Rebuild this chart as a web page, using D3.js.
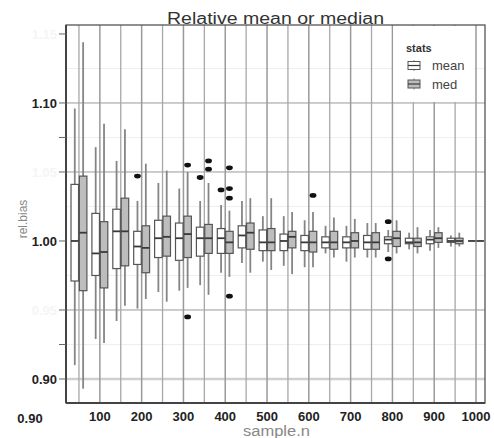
<!DOCTYPE html>
<meta charset="utf-8" />
<head>
  <script src="https://d3js.org/d3.v7.min.js"></script>
  <style>
    body { margin: 0; background: #fff; }
    text { font-family: "Liberation Sans", Arial, sans-serif; }
  </style>
</head>
<body>
  <div id="chart"></div>
</body>
<script>
  // sample sizes (one pair of boxes per size)
  const sampleN = [50, 100, 150, 200, 250, 300, 350, 400, 450, 500,
                   550, 600, 650, 700, 750, 800, 850, 900, 950, 1000];

  // [lower whisker, q1, median, q3, upper whisker]
  const meanStats = [
    [0.910, 0.971, 1.000, 1.041, 1.096], [0.929, 0.975, 0.991, 1.020, 1.068],
    [0.942, 0.980, 1.007, 1.023, 1.058], [0.951, 0.983, 0.996, 1.007, 1.029],
    [0.963, 0.988, 1.002, 1.015, 1.042], [0.964, 0.986, 1.002, 1.013, 1.038],
    [0.968, 0.989, 1.002, 1.010, 1.029], [0.977, 0.991, 1.002, 1.009, 1.026],
    [0.984, 0.995, 1.004, 1.011, 1.029], [0.985, 0.993, 0.999, 1.008, 1.018],
    [0.982, 0.993, 1.000, 1.005, 1.018], [0.981, 0.993, 0.999, 1.004, 1.015],
    [0.991, 0.995, 0.999, 1.003, 1.011], [0.985, 0.995, 0.999, 1.003, 1.011],
    [0.988, 0.994, 0.999, 1.004, 1.013], [0.992, 0.998, 1.001, 1.003, 1.008],
    [0.994, 0.998, 0.999, 1.002, 1.006], [0.993, 0.998, 1.001, 1.003, 1.008],
    [0.996, 0.999, 1.000, 1.002, 1.004], [1.000, 1.000, 1.000, 1.000, 1.000]
  ];
  const medStats = [
    [0.893, 0.964, 1.006, 1.047, 1.144], [0.926, 0.966, 0.992, 1.014, 1.085],
    [0.953, 0.982, 1.007, 1.031, 1.081], [0.958, 0.977, 0.995, 1.011, 1.056],
    [0.956, 0.989, 1.003, 1.018, 1.051], [0.966, 0.988, 1.005, 1.018, 1.050],
    [0.961, 0.991, 1.002, 1.012, 1.042], [0.974, 0.991, 0.999, 1.007, 1.022],
    [0.977, 0.994, 1.006, 1.013, 1.031], [0.979, 0.993, 0.999, 1.009, 1.031],
    [0.976, 0.995, 1.003, 1.007, 1.021], [0.981, 0.992, 0.999, 1.007, 1.021],
    [0.988, 0.994, 0.999, 1.007, 1.017], [0.988, 0.995, 1.000, 1.006, 1.016],
    [0.988, 0.994, 0.999, 1.006, 1.013], [0.991, 0.996, 1.002, 1.007, 1.015],
    [0.991, 0.996, 0.999, 1.002, 1.010], [0.995, 0.999, 1.002, 1.006, 1.010],
    [0.996, 0.998, 1.000, 1.002, 1.006], [1.000, 1.000, 1.000, 1.000, 1.000]
  ];

  // outliers: [sample.n, value]
  const meanOutliers = [[200, 1.047], [350, 1.046], [400, 1.037], [800, 1.014], [800, 0.987]];
  const medOutliers = [[300, 1.055], [300, 0.945], [350, 1.058], [350, 1.052],
                       [400, 1.053], [400, 1.038], [400, 1.031], [400, 0.960], [600, 1.033]];

  const yMajor = [0.90, 1.00, 1.10];
  const yFaint = [0.95, 1.05, 1.15];
  const yMinor = [0.925, 0.975, 1.025, 1.075, 1.125];
  const xTicks = [100, 200, 300, 400, 500, 600, 700, 800, 900, 1000];
  const statKeys = ["mean", "med"];

  const width = 494, height = 438;
  const plot = { left: 66, right: 485, top: 25, bottom: 403 };

  const svg = d3.select("#chart").append("svg")
    .attr("width", width).attr("height", height);

  const x = d3.scaleLinear().domain([19, 1021.5]).range([plot.left, plot.right]);
  const y = d3.scaleLinear().domain([0.8826, 1.1565]).range([plot.bottom, plot.top]);
  const fill = d3.scaleOrdinal().domain(statKeys).range(["#ffffff", "#bdbdbd"]);
  const dodge = { mean: -10, med: 10 };
  const boxW = x(18) - x(0);

  // faint minor rules
  svg.append("g").selectAll("line").data(yMinor).join("line")
    .attr("x1", plot.left).attr("x2", plot.right)
    .attr("y1", d => y(d)).attr("y2", d => y(d))
    .attr("stroke", "#eeeeee").attr("stroke-width", 1);

  // horizontal grid
  const hGrid = [[1.10, "#9a9a9a", 1], [1.05, "#9a9a9a", 1], [0.95, "#9a9a9a", 1], [0.90, "#cfcfcf", 2.5]];
  svg.append("g").selectAll("line").data(hGrid).join("line")
    .attr("x1", plot.left).attr("x2", plot.right)
    .attr("y1", d => y(d[0])).attr("y2", d => y(d[0]))
    .attr("stroke", d => d[1]).attr("stroke-width", d => d[2]);

  // vertical grid at every sample size
  svg.append("g").selectAll("line").data(sampleN).join("line")
    .attr("x1", d => x(d)).attr("x2", d => x(d))
    .attr("y1", plot.top).attr("y2", plot.bottom)
    .attr("stroke", d => d % 100 === 0 ? "#9a9a9a" : "#a8a8a8")
    .attr("stroke-width", d => d % 100 === 0 ? 1.5 : 1.3);

  // boxes
  function drawBoxes(stats, key) {
    const g = svg.append("g");
    const rows = stats.map((s, i) => ({ n: sampleN[i], s: s }));
    const cx = d => x(d.n + dodge[key]);
    g.selectAll("line.up").data(rows).join("line")
      .attr("x1", cx).attr("x2", cx)
      .attr("y1", d => y(d.s[3])).attr("y2", d => y(d.s[4]))
      .attr("stroke", "#858585").attr("stroke-width", 1.8);
    g.selectAll("line.low").data(rows).join("line")
      .attr("x1", cx).attr("x2", cx)
      .attr("y1", d => y(d.s[1])).attr("y2", d => y(d.s[0]))
      .attr("stroke", "#858585").attr("stroke-width", 1.8);
    g.selectAll("rect").data(rows).join("rect")
      .attr("x", d => cx(d) - boxW / 2)
      .attr("width", boxW)
      .attr("y", d => y(d.s[3]))
      .attr("height", d => y(d.s[1]) - y(d.s[3]))
      .attr("fill", fill(key))
      .attr("stroke", "#555").attr("stroke-width", 1.2);
    g.selectAll("line.med").data(rows).join("line")
      .attr("x1", d => cx(d) - boxW / 2).attr("x2", d => cx(d) + boxW / 2)
      .attr("y1", d => y(d.s[2])).attr("y2", d => y(d.s[2]))
      .attr("stroke", "#3a3a3a").attr("stroke-width", 1.8);
  }
  drawBoxes(meanStats, "mean");
  drawBoxes(medStats, "med");

  function drawOutliers(pts, key) {
    svg.append("g").selectAll("ellipse").data(pts).join("ellipse")
      .attr("cx", d => x(d[0] + dodge[key]))
      .attr("cy", d => y(d[1]))
      .attr("rx", 3.4).attr("ry", 2.4)
      .attr("fill", "#111");
  }
  drawOutliers(meanOutliers, "mean");
  drawOutliers(medOutliers, "med");

  // legend
  const leg = svg.append("g");
  leg.append("rect")
    .attr("x", x(802)).attr("y", plot.top + 1)
    .attr("width", x(995) - x(802)).attr("height", y(1.10) - plot.top - 2)
    .attr("fill", "#fff");
  leg.append("text").attr("x", 406).attr("y", 52)
    .style("font-size", "11px").style("font-weight", "bold").attr("fill", "#333")
    .text("stats");
  statKeys.forEach((k, i) => {
    const cy = 65.5 + i * 18.5;
    leg.append("line").attr("x1", 414).attr("x2", 414)
      .attr("y1", cy - 5.5).attr("y2", cy + 5.5)
      .attr("stroke", "#858585").attr("stroke-width", 1);
    leg.append("rect").attr("x", 408).attr("y", cy - 4)
      .attr("width", 12).attr("height", 8)
      .attr("fill", fill(k)).attr("stroke", "#555").attr("stroke-width", 1);
    leg.append("line").attr("x1", 408).attr("x2", 420)
      .attr("y1", cy).attr("y2", cy)
      .attr("stroke", "#3a3a3a").attr("stroke-width", 1.2);
    leg.append("text").attr("x", 432).attr("y", cy + 4.5)
      .style("font-size", "13px").attr("fill", "#444")
      .text(k);
  });

  // panel border and axis lines
  svg.append("rect")
    .attr("x", plot.left).attr("y", plot.top)
    .attr("width", plot.right - plot.left).attr("height", plot.bottom - plot.top)
    .attr("fill", "none").attr("stroke", "#555").attr("stroke-width", 1.3);
  svg.append("line")
    .attr("x1", plot.left).attr("x2", plot.left)
    .attr("y1", plot.top).attr("y2", plot.bottom)
    .attr("stroke", "#444").attr("stroke-width", 2);
  svg.append("line")
    .attr("x1", plot.left).attr("x2", plot.right)
    .attr("y1", plot.bottom).attr("y2", plot.bottom)
    .attr("stroke", "#444").attr("stroke-width", 2);

  // y ticks
  const yt = svg.append("g");
  yt.selectAll("line").data(yMajor.concat(yFaint, [0.925, 1.075])).join("line")
    .attr("x1", plot.left - 7).attr("x2", plot.left)
    .attr("y1", d => y(d)).attr("y2", d => y(d))
    .attr("stroke", "#666").attr("stroke-width", 1);
  yt.selectAll("text.major").data(yMajor).join("text")
    .attr("x", plot.left - 9).attr("y", d => y(d) + 5)
    .attr("text-anchor", "end")
    .style("font-size", "13px").style("font-weight", "bold").attr("fill", "#222")
    .text(d => d.toFixed(2));
  yt.selectAll("text.faint").data(yFaint).join("text")
    .attr("x", plot.left - 9).attr("y", d => y(d) + 5)
    .attr("text-anchor", "end")
    .style("font-size", "13px").style("font-weight", "bold").attr("fill", "#f5f5f5")
    .text(d => d.toFixed(2));

  // x tick labels
  svg.append("g").selectAll("text").data(xTicks).join("text")
    .attr("x", d => x(d)).attr("y", 421)
    .attr("text-anchor", "middle")
    .style("font-size", "13px").style("font-weight", "bold").attr("fill", "#222")
    .text(d => d);
  svg.append("text").attr("x", 30).attr("y", 423)
    .attr("text-anchor", "middle")
    .style("font-size", "13px").style("font-weight", "bold").attr("fill", "#222")
    .text("0.90");

  // titles
  svg.append("text").attr("x", 275.5).attr("y", 24)
    .attr("text-anchor", "middle")
    .attr("textLength", 217).attr("lengthAdjust", "spacingAndGlyphs")
    .style("font-size", "16px").attr("fill", "#333")
    .text("Relative mean or median");
  svg.append("text").attr("x", 276.5).attr("y", 435.5)
    .attr("text-anchor", "middle")
    .attr("textLength", 67).attr("lengthAdjust", "spacingAndGlyphs")
    .style("font-size", "14px").attr("fill", "#888")
    .text("sample.n");
  svg.append("text")
    .attr("transform", "translate(27,219) rotate(-90)")
    .attr("text-anchor", "middle")
    .style("font-size", "12px").attr("fill", "#888")
    .text("rel.bias");
</script>
